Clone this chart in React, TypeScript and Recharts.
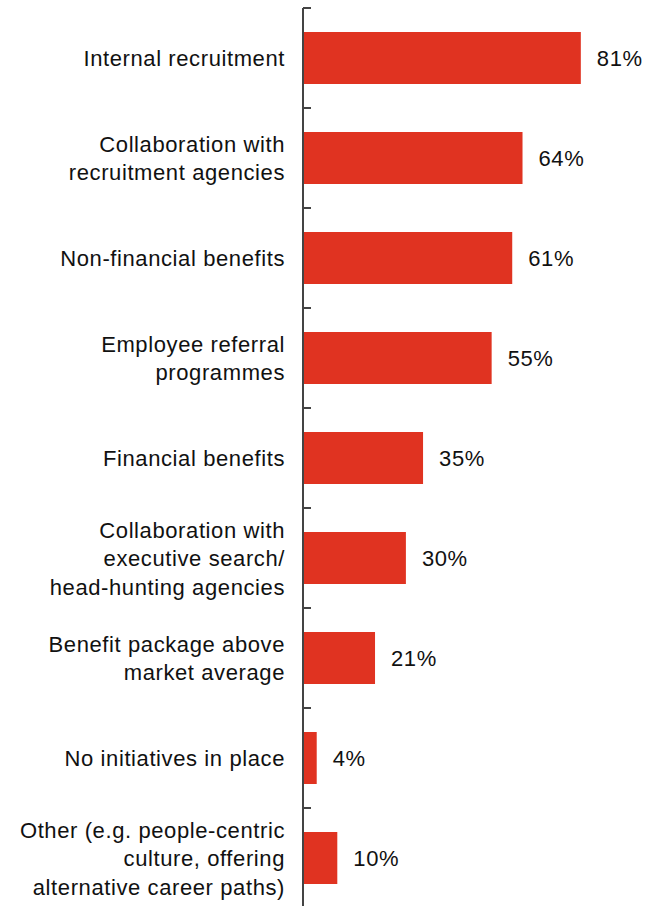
import { BarChart, Bar, XAxis, YAxis, LabelList } from 'recharts';

const categories = [
  'Internal recruitment',
  'Collaboration with\nrecruitment agencies',
  'Non-financial benefits',
  'Employee referral\nprogrammes',
  'Financial benefits',
  'Collaboration with\nexecutive search/\nhead-hunting agencies',
  'Benefit package above\nmarket average',
  'No initiatives in place',
  'Other (e.g. people-centric\nculture, offering\nalternative career paths)',
];
const shares = [81, 64, 61, 55, 35, 30, 21, 4, 10];

const data = categories.map((name, i) => ({ name, value: shares[i] }));

const FONT = '"Liberation Sans", Arial, Helvetica, sans-serif';
const LINE_H = 28.5;

function CategoryTick(props: any) {
  const { x, y, payload } = props;
  const half = payload.offset ?? 50;
  const lines = String(payload.value).split('\n');
  const startDy = -((lines.length - 1) / 2) * LINE_H;
  return (
    <g>
      <line x1={x} x2={x + 8} y1={y - half} y2={y - half} stroke="#444" strokeWidth={2} />
      <line x1={x} x2={x + 8} y1={y + half} y2={y + half} stroke="#444" strokeWidth={2} />
      <text
        x={x - 18}
        y={y + startDy}
        textAnchor="end"
        dominantBaseline="central"
        fontSize={22}
        letterSpacing={0.6}
        fontFamily={FONT}
        fill="#111"
      >
        {lines.map((line, i) => (
          <tspan key={i} x={x - 18} dy={i === 0 ? 0 : LINE_H}>
            {line}
          </tspan>
        ))}
      </text>
    </g>
  );
}

function ValueLabel(props: any) {
  const { x, y, width, height, value } = props;
  return (
    <text
      x={x + width + 16}
      y={y + height / 2}
      dominantBaseline="central"
      fontSize={22}
      letterSpacing={0.6}
      fontFamily={FONT}
      fill="#111"
    >
      {`${value}%`}
    </text>
  );
}

export default function App() {
  return (
    <div style={{ width: 647, height: 906, overflow: 'hidden' }}>
      <style>{'body { margin: 0; }'}</style>
      <BarChart
        width={647}
        height={908}
        data={data}
        layout="vertical"
        margin={{ top: 8, right: 1, bottom: 0, left: 0 }}
      >
        <XAxis type="number" domain={[0, 100]} hide />
        <YAxis
          type="category"
          dataKey="name"
          width={303}
          tickSize={0}
          tickMargin={0}
          tickLine={false}
          axisLine={{ stroke: '#444', strokeWidth: 2 }}
          tick={<CategoryTick />}
          interval={0}
        />
        <Bar dataKey="value" fill="#e03321" barSize={52} isAnimationActive={false}>
          <LabelList dataKey="value" content={<ValueLabel />} />
        </Bar>
      </BarChart>
    </div>
  );
}
